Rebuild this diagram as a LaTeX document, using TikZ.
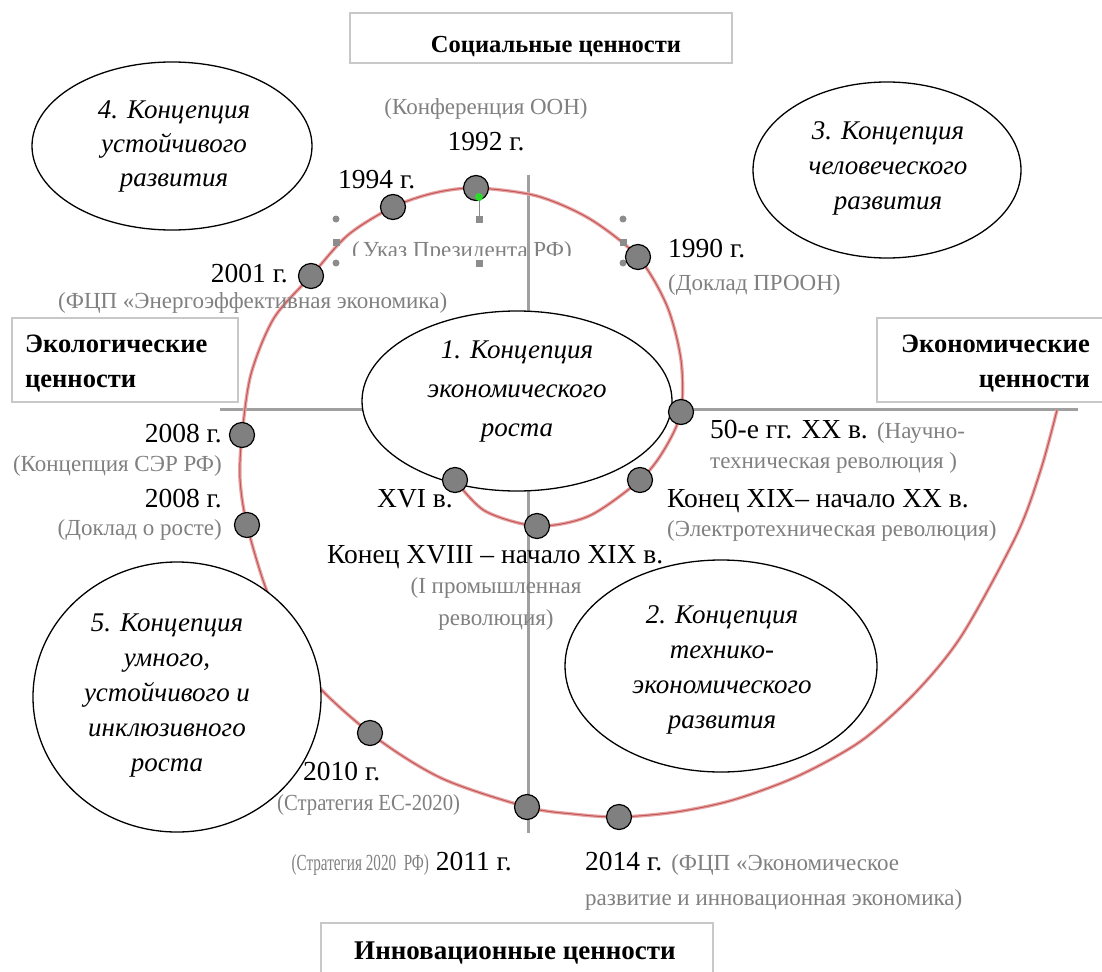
\documentclass[tikz,border=0pt]{standalone}
\usepackage{fontspec}
\usepackage{graphicx}
\setmainfont{Liberation Serif}
\usetikzlibrary{shapes.geometric}
\definecolor{axisgray}{RGB}{160,160,160}
\definecolor{boxgray}{RGB}{200,200,200}
\definecolor{txtgray}{RGB}{128,128,128}
\definecolor{dotgray}{RGB}{128,128,128}
\definecolor{spiralglow}{RGB}{232,165,165}
\definecolor{spiralcore}{RGB}{195,85,85}
\definecolor{handlegray}{RGB}{140,140,140}
\definecolor{rotgreen}{RGB}{40,220,40}
\newcommand{\grynote}{\fontsize{23}{27}\selectfont\color{txtgray}}
\begin{document}
\begin{tikzpicture}[x=1pt,y=-1pt,
  conc/.style={ellipse, draw=black, line width=1.3pt, fill=white, inner sep=0pt},
  conctext/.style={font=\fontsize{27}{35}\selectfont\itshape, align=center, inner sep=0pt},
  valbox/.style={draw=boxgray, line width=1.5pt, fill=white, inner sep=0pt},
  valtext/.style={font=\fontsize{26.5}{30}\selectfont\bfseries, inner sep=0pt},
  dot/.style={circle, draw=black, line width=1.2pt, fill=dotgray, minimum size=25pt, inner sep=0pt},
  yr/.style={font=\fontsize{27.5}{30}\selectfont, inner sep=0pt},
  note/.style={font=\fontsize{23}{27}\selectfont, text=txtgray, inner sep=0pt},
  axisline/.style={draw=axisgray, line width=3pt}]
\useasboundingbox (0,0) rectangle (1102,971);
\fill[white] (0,0) rectangle (1102,971);

% axes
\coordinate (hl) at (220,409);
\coordinate (hr) at (1078,409);
\coordinate (vt) at (528,175);
\coordinate (vb) at (528,833);
\draw[axisline] (hl) -- (hr);
\draw[axisline] (vt) -- (vb);

% value boxes
\node[valbox, minimum width=382pt, minimum height=50pt] (socbox) at (541,38) {};
\node[valbox, minimum width=226pt, minimum height=84pt] (ecolbox) at (125,360) {};
\node[valbox, minimum width=228pt, minimum height=84pt] (econbox) at (991,360) {};
\node[valbox, minimum width=392pt, minimum height=80pt] (innbox) at (517,963) {};

% spiral points (dots)
\coordinate (p1) at (455,480);
\coordinate (p2) at (537,526);
\coordinate (p3) at (640,480);
\coordinate (p4) at (681,412);
\coordinate (p5) at (638,257);
\coordinate (p6) at (476,188);
\coordinate (p7) at (393,207);
\coordinate (p8) at (311,276);
\coordinate (p9) at (242,435);
\coordinate (p10) at (247,525);
\coordinate (p11) at (370,733);
\coordinate (p12) at (527,807);
\coordinate (p13) at (619,817);
\coordinate (pend) at (1057,410);

\foreach \w/\c in {3.4pt/spiralglow, 1pt/spiralcore}{
\draw[line width=\w, color=\c] plot[smooth, tension=0.5] coordinates {
  (p1) (485,511) (p2) (589,516) (p3) (664,450) (p4) (681,360) (667,306) (p5)
  (590,219) (537,196) (p6) (434,193) (p7) (348,235) (p8) (274,318) (251,374)
  (p9) (240,479) (p10) (268,594) (304,670) (p11) (441,778) (p12) (573,814) (p13)
  (676,812) (733,800) (798,776) (861,741) (915,693) (962,635) (1017,534) (1041,469) (pend)};
}

% concept ellipses
\node[conc, minimum width=310pt, minimum height=180pt] (e1) at (517,401) {};
\node[conc, minimum width=312pt, minimum height=212pt] (e2) at (721,666) {};
\node[conc, minimum width=268pt, minimum height=176pt] (e3) at (887,170) {};
\node[conc, minimum width=280pt, minimum height=168pt] (e4) at (172,146) {};
\node[conc, minimum width=288pt, minimum height=270pt] (e5) at (177,697) {};

\node[conctext, font=\fontsize{27}{39}\selectfont\itshape] (e1t) at (517,391) {1. Концепция\\экономического\\роста};
\node[conctext] (e2t) at (722,670) {2. Концепция\\технико-\\экономического\\развития};
\node[conctext] (e3t) at (888,168) {3. Концепция\\человеческого\\развития};
\node[conctext, font=\fontsize{27}{34}\selectfont\itshape] (e4t) at (174,146) {4. Концепция\\устойчивого\\развития};
\node[conctext] (e5t) at (167,696) {5. Концепция\\умного,\\устойчивого и\\инклюзивного\\роста};

% selection handles around the 1994 caption
\foreach \hx/\hy in {336/219, 623/219, 336/263, 623/263}{
  \fill[handlegray] (\hx,\hy) circle (3.5pt);
}
\foreach \hx/\hy in {479/219, 336/242, 623/242, 479/263}{
  \fill[handlegray] (\hx-3.5,\hy-3.5) rectangle (\hx+3.5,\hy+3.5);
}
\draw[handlegray, line width=1pt] (479,197) -- (479,216);

% dots
\foreach \i in {1,...,13}{
  \node[dot] (n\i) at (p\i) {};
}
\fill[rotgreen] (479,197) circle (4pt);

% year labels and captions
\node[note, anchor=base] (c1992) at (486,114) {(Конференция ООН)};
\node[yr, anchor=base] (t1992) at (486,150) {1992 г.};
\node[yr, anchor=base west] (t1994) at (338,188) {1994 г.};
\begin{scope}
  \clip (340,226) rectangle (630,255);
  \node[note, anchor=base west] (c1994) at (352,257) {(\kern3pt Указ Президента РФ)};
\end{scope}
\node[yr, anchor=base west] (t1990) at (668,257) {1990 г.};
\node[note, anchor=base west] (c1990) at (668,290) {(Доклад ПРООН)};
\node[yr, anchor=base east] (t2001) at (288,282) {2001 г.};
\node[note, anchor=base west] (c2001) at (58,308) {(ФЦП «Энергоэффективная экономика)};
\node[yr, anchor=base east] (t2008a) at (222,442) {2008 г.};
\node[note, anchor=base east] (c2008a) at (222,471) {(Концепция СЭР РФ)};
\node[yr, anchor=base east] (t2008b) at (222,507) {2008 г.};
\node[note, anchor=base east] (c2008b) at (222,535) {(Доклад о росте)};
\node[yr, anchor=base east] (tXVI) at (453,507) {XVI в.};
\node[yr, anchor=base west] (tXVIII) at (327,563) {Конец XVIII – начало XIX в.};
\node[note, anchor=base] (cXVIIIa) at (496,593) {(I промышленная};
\node[note, anchor=base] (cXVIIIb) at (496,625) {революция)};
\node[yr, anchor=base west] (t50) at (710,438) {50-е гг. XX в. {\grynote(Научно-}};
\node[note, anchor=base west] (c50) at (710,468) {техническая революция )};
\node[yr, anchor=base west] (tXIX) at (667,507) {Конец XIX– начало XX в.};
\node[note, anchor=base west] (cXIX) at (667,536) {(Электротехническая революция)};
\node[yr, anchor=base west] (t2010) at (303,780) {2010 г.};
\node[note, anchor=base west] (c2010) at (277,810) {\scalebox{0.9}[1]{(Стратегия ЕС-2020)}};
\node[yr, anchor=base east] (t2011) at (512,870) {{\grynote\scalebox{0.66}[1]{(Стратегия 2020\ \ РФ)}} 2011 г.};
\node[yr, anchor=base west] (t2014) at (585,870) {2014 г. {\grynote(ФЦП «Экономическое}};
\node[note, anchor=base west] (c2014) at (585,905) {развитие и инновационная экономика)};

% value labels
\node[valtext, font=\fontsize{24.5}{30}\selectfont\bfseries, anchor=base] (soct) at (556,53) {Социальные ценности};
\node[valtext, anchor=base west] (ecolt1) at (25,352) {Экологические};
\node[valtext, anchor=base west] (ecolt2) at (25,387) {ценности};
\node[valtext, anchor=base east] (econt1) at (1090,352) {Экономические};
\node[valtext, anchor=base east] (econt2) at (1090,387) {ценности};
\node[valtext, font=\fontsize{27}{30}\selectfont\bfseries, anchor=base] (innt) at (515,959) {Инновационные ценности};
\end{tikzpicture}
\end{document}
